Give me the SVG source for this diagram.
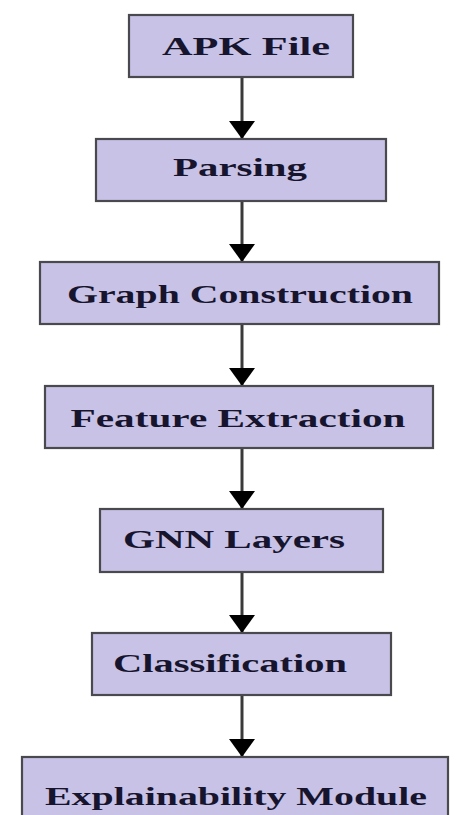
<svg xmlns="http://www.w3.org/2000/svg" width="461" height="815" viewBox="0 0 461 815">
  <defs>
    <marker id="arrow" viewBox="0 0 18 26" refX="18" refY="13" markerWidth="18" markerHeight="26" markerUnits="userSpaceOnUse" orient="auto">
      <path d="M0,0 L18,13 L0,26 Z" fill="#000"/>
    </marker>
  </defs>
  <style>
    .box { fill: #c8c2e7; stroke: #4a4a4e; stroke-width: 2.2; }
    .label { font-family: "Liberation Serif", "Times New Roman", serif; font-weight: bold; font-size: 25px; fill: #17152e; text-anchor: middle; }
    .edge { stroke: #3a3a3a; stroke-width: 3; fill: none; marker-end: url(#arrow); }
  </style>
  <rect width="461" height="815" fill="#ffffff"/>

  <g id="connectors">
    <line class="edge" x1="242" y1="78" x2="242" y2="139"/>
    <line class="edge" x1="242" y1="202" x2="242" y2="262"/>
    <line class="edge" x1="242" y1="325" x2="242" y2="386"/>
    <line class="edge" x1="242" y1="449" x2="242" y2="509"/>
    <line class="edge" x1="242" y1="573" x2="242" y2="633"/>
    <line class="edge" x1="242" y1="696" x2="242" y2="757"/>
  </g>

  <g id="apk-file">
    <rect class="box" x="129" y="15" width="224" height="62"/>
    <text class="label" x="246" y="55" textLength="168" lengthAdjust="spacingAndGlyphs">APK File</text>
  </g>
  <g id="parsing">
    <rect class="box" x="96" y="139" width="290" height="62"/>
    <text class="label" x="240" y="176" textLength="134" lengthAdjust="spacingAndGlyphs">Parsing</text>
  </g>
  <g id="graph-construction">
    <rect class="box" x="40" y="262" width="399" height="62"/>
    <text class="label" x="240" y="303" textLength="346" lengthAdjust="spacingAndGlyphs">Graph Construction</text>
  </g>
  <g id="feature-extraction">
    <rect class="box" x="45" y="386" width="388" height="62"/>
    <text class="label" x="238" y="427" textLength="335" lengthAdjust="spacingAndGlyphs">Feature Extraction</text>
  </g>
  <g id="gnn-layers">
    <rect class="box" x="100" y="509" width="283" height="63"/>
    <text class="label" x="234" y="548" textLength="222" lengthAdjust="spacingAndGlyphs">GNN Layers</text>
  </g>
  <g id="classification">
    <rect class="box" x="92" y="633" width="299" height="62"/>
    <text class="label" x="230" y="672" textLength="234" lengthAdjust="spacingAndGlyphs">Classification</text>
  </g>
  <g id="explainability-module">
    <rect class="box" x="22" y="757" width="426" height="70"/>
    <text class="label" x="236" y="805" textLength="382" lengthAdjust="spacingAndGlyphs">Explainability Module</text>
  </g>
</svg>
